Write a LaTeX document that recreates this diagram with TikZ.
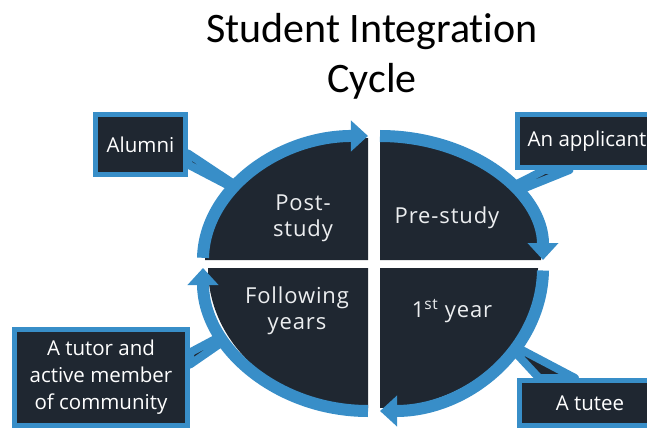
\documentclass[tikz,border=0pt]{standalone}
\usepackage{fontspec}
\setmainfont{Open Sans}
\newfontfamily\titlefont[Ligatures=NoCommon]{Carlito}
\newfontfamily\phasefont[LetterSpace=4]{Open Sans}
\usetikzlibrary{arrows.meta,backgrounds}

\definecolor{ringblue}{RGB}{56,142,200}
\definecolor{darkfill}{RGB}{31,39,49}
\definecolor{labelgray}{RGB}{236,238,240}

\tikzset{
  quarter/.style={fill=darkfill},
  ring/.style={draw=ringblue, line width=12pt, -{Triangle[width=30pt,length=17pt]}},
  callout/.style={fill=darkfill, draw=ringblue, line width=5pt, text=white,
    font=\fontsize{20.5}{27}\selectfont, align=center},
  tail/.style={fill=darkfill, draw=ringblue, line width=8pt, line join=round},
  phase/.style={text=labelgray, font=\phasefont\fontsize{22}{26}\selectfont, align=center},
}

\begin{document}
\begin{tikzpicture}[x=1pt,y=-1pt]
\useasboundingbox (0,0) rectangle (647,430);

% title
\node[font=\titlefont\fontsize{42}{50}\selectfont, align=center] (title) at (372,56) {Student Integration\\Cycle};

% the four quarters
\fill[quarter] (368,260) -- (205,260) arc[start angle=180, end angle=270, x radius=163, y radius=122] -- cycle;
\fill[quarter] (380,260) -- (380,138) arc[start angle=270, end angle=360, x radius=161, y radius=122] -- cycle;
\fill[quarter] (380,268) -- (538,268) arc[start angle=0, end angle=90, x radius=158, y radius=140] -- cycle;
\fill[quarter] (368,268) -- (368,408) arc[start angle=90, end angle=180, x radius=160, y radius=140] -- cycle;

% cycle arrows
\draw[ring] (203,257.8) arc[start angle=181, end angle=270, x radius=165, y radius=124];
\draw[ring] (380,136) arc[start angle=270, end angle=360, x radius=163, y radius=124];
\draw[ring] (543,270.5) arc[start angle=1, end angle=90, x radius=163, y radius=143];
\draw[ring] (368,411) arc[start angle=90, end angle=180, x radius=165, y radius=143];

% phases
\node[phase] (post) at (303,218) {Post-\\study};
\node[phase] (pre) at (447,218) {Pre-study};
\node[phase] (following) at (297,311) {Following\\years};
\node[phase] (first) at (452,311) {1\textsuperscript{st} year};

% callouts
\node[callout, minimum width=90pt, minimum height=60pt] (alumni) at (140.5,144.5) {Alumni};
\node[callout, minimum width=140pt, minimum height=53pt] (applicant) at (587,141) {An applicant};
\node[callout, minimum width=173pt, minimum height=96pt] (tutor) at (101,377.5) {A tutor and\\active member\\of community};
\node[callout, minimum width=141pt, minimum height=45pt] (tutee) at (590,403) {A tutee};

\coordinate (alumni tip a) at (237,186);
\coordinate (alumni tip b) at (235,189);
\coordinate (applicant tip a) at (515,192);
\coordinate (applicant tip b) at (511,187);
\coordinate (tutor tip a) at (224,341);
\coordinate (tutor tip b) at (221,336);
\coordinate (tutee tip a) at (518,348);
\coordinate (tutee tip b) at (514,351);

\begin{pgfonlayer}{background}
\draw[tail] ([yshift=-9pt]alumni.east) -- (alumni tip a) -- (alumni tip b) -- ([yshift=-20pt]alumni.east) -- cycle;
\draw[tail] ([xshift=30pt]applicant.south west) -- (applicant tip b) -- (applicant tip a) -- ([xshift=55pt]applicant.south west) -- cycle;
\draw[tail] ([yshift=13pt]tutor.east) -- (tutor tip a) -- (tutor tip b) -- ([yshift=25pt]tutor.east) -- cycle;
\draw[tail] ([xshift=22pt]tutee.north west) -- (tutee tip b) -- (tutee tip a) -- ([xshift=58pt]tutee.north west) -- cycle;
\end{pgfonlayer}
\end{tikzpicture}
\end{document}
